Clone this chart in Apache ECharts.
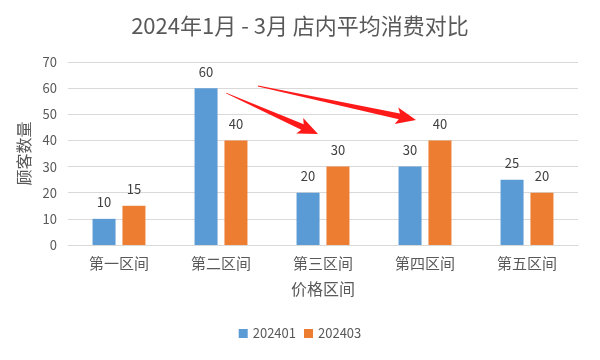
<!DOCTYPE html>
<html><head><meta charset="utf-8">
<script src="https://cdn.jsdelivr.net/npm/echarts@6/dist/echarts.min.js"></script>
<style>html,body{margin:0;padding:0;background:#fff}#c{width:600px;height:360px}</style>
</head><body><div id="c"></div>
<script>
const categories = ['第一区间','第二区间','第三区间','第四区间','第五区间'];
const series202401 = [10, 60, 20, 30, 25];
const series202403 = [15, 40, 30, 40, 20];
const seriesNames = ['202401','202403'];
const titleText = '2024年1月 - 3月 店内平均消费对比';

const chart = echarts.init(document.getElementById('c'));
const font = '"Noto Sans CJK SC", "Microsoft YaHei", sans-serif';

function arrow(x0,y0,x1,y1){
  const dx=x1-x0, dy=y1-y0, L=Math.hypot(dx,dy);
  const ux=dx/L, uy=dy/L, nx=-uy, ny=ux;
  const hl=17, hw=8.5, sw=3, tw=0.4;
  const bx=x1-ux*hl, by=y1-uy*hl;
  const pts=[
    [x0+nx*tw,y0+ny*tw],
    [bx+nx*sw,by+ny*sw],
    [bx-ux*3+nx*hw,by-uy*3+ny*hw],
    [x1,y1],
    [bx-ux*3-nx*hw,by-uy*3-ny*hw],
    [bx-nx*sw,by-ny*sw],
    [x0-nx*tw,y0-ny*tw]
  ];
  return {type:'polygon',shape:{points:pts},style:{fill:'#ff1a1a'},z:100};
}

chart.setOption({
  animation:false,
  textStyle:{fontFamily:font},
  title:{text:titleText,left:'center',top:10,textStyle:{fontSize:22,fontWeight:'normal',color:'#595959',fontFamily:font}},
  grid:{left:68,right:22,top:62,bottom:115},
  legend:{top:322,left:'center',itemWidth:9,itemHeight:9,itemGap:8,icon:'rect',
    textStyle:{fontSize:13,color:'#595959',fontFamily:font},data:seriesNames},
  xAxis:{type:'category',data:categories,name:'价格区间',nameLocation:'middle',nameGap:36,
    nameTextStyle:{fontSize:16,color:'#595959',fontFamily:font},
    axisLine:{lineStyle:{color:'#d9d9d9'}},axisTick:{show:false},
    axisLabel:{fontSize:15,color:'#595959',margin:11,fontFamily:font}},
  yAxis:{type:'value',min:0,max:70,interval:10,name:'顾客数量',nameLocation:'middle',nameGap:35,
    nameTextStyle:{fontSize:16,color:'#595959',fontFamily:font},
    axisLine:{show:false},axisTick:{show:false},
    axisLabel:{fontSize:13,color:'#595959',margin:11,fontFamily:font},
    splitLine:{lineStyle:{color:'#d9d9d9'}}},
  series:[
    {name:seriesNames[0],type:'bar',data:series202401,barWidth:23,barGap:'30%',
     itemStyle:{color:'#5b9bd5'},label:{show:true,position:'top',distance:10,fontSize:13,color:'#404040'}},
    {name:seriesNames[1],type:'bar',data:series202403,barWidth:23,
     itemStyle:{color:'#ed7d31'},label:{show:true,position:'top',distance:10,fontSize:13,color:'#404040'}}
  ],
  graphic:[arrow(226,93,318,134),arrow(258,86,416,120)]
});
</script></body></html>
